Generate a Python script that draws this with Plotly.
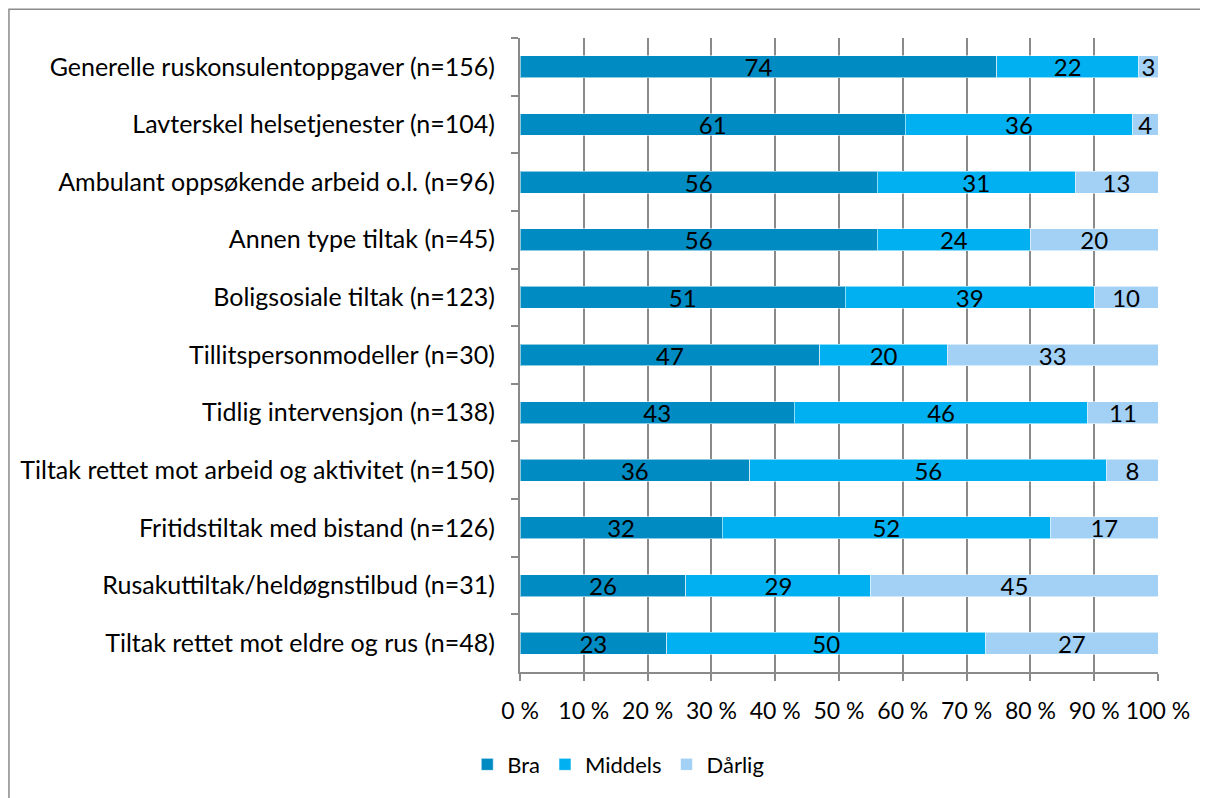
import plotly.graph_objects as go

categories = [
    "Generelle ruskonsulentoppgaver (n=156)",
    "Lavterskel helsetjenester (n=104)",
    "Ambulant oppsøkende arbeid o.l. (n=96)",
    "Annen type tiltak (n=45)",
    "Boligsosiale tiltak (n=123)",
    "Tillitspersonmodeller (n=30)",
    "Tidlig intervensjon (n=138)",
    "Tiltak rettet mot arbeid og aktivitet (n=150)",
    "Fritidstiltak med bistand (n=126)",
    "Rusakuttiltak/heldøgnstilbud (n=31)",
    "Tiltak rettet mot eldre og rus (n=48)",
]
bra = [74, 61, 56, 56, 51, 47, 43, 36, 32, 26, 23]
middels = [22, 36, 31, 24, 39, 20, 46, 56, 52, 29, 50]
darlig = [3, 4, 13, 20, 10, 33, 11, 8, 17, 45, 27]
series_names = ["Bra", "Middels", "Dårlig"]
colors = ["#008BC2", "#00B0F0", "#A2D1F5"]
x_ticks = [0, 10, 20, 30, 40, 50, 60, 70, 80, 90, 100]
x_ticktext = [f"{v} %" for v in x_ticks]

FONT = "Lato, Open Sans, sans-serif"
fig = go.Figure()
for name, vals, col in zip(series_names, [bra, middels, darlig], colors):
    fig.add_trace(go.Bar(
        y=categories, x=vals, name=name, orientation="h",
        marker=dict(color=col, line=dict(color="rgba(255,255,255,0.55)", width=1)),
        text=vals, texttemplate="%{text}", textposition="inside",
        insidetextanchor="middle", textangle=0, constraintext="none",
        textfont=dict(color="black", size=24, family=FONT),
        hoverinfo="skip",
    ))

fig.update_layout(
    barmode="stack", barnorm="percent", bargap=0.62,
    width=1200, height=790,
    margin=dict(l=512, r=50, t=30, b=122),
    paper_bgcolor="white", plot_bgcolor="white",
    font=dict(family=FONT, size=25, color="black"),
    showlegend=True,
    legend=dict(orientation="h", x=0.154, xanchor="center", y=-0.146, yanchor="middle",
                font=dict(size=22), traceorder="normal", itemwidth=30),
    uniformtext=dict(minsize=24, mode="show"),
)
fig.update_xaxes(
    range=[0, 100], tickvals=x_ticks, ticktext=x_ticktext,
    tickangle=0, tickfont=dict(size=23),
    showgrid=True, gridcolor="#8A8A8A", gridwidth=1.5,
    showline=True, linecolor="#8A8A8A", linewidth=2,
    ticks="outside", ticklen=7, tickcolor="#8A8A8A", tickwidth=1.5,
    ticklabelstandoff=10,
    zeroline=False, fixedrange=True,
)
fig.update_yaxes(
    autorange="reversed", tickson="boundaries",
    showline=True, linecolor="#8A8A8A", linewidth=2,
    ticks="outside", ticklen=7, tickcolor="#8A8A8A", tickwidth=1.5,
    ticklabelstandoff=18,
    showgrid=False, fixedrange=True,
)
fig.add_shape(type="rect", xref="paper", yref="paper",
              x0=-0.801, x1=1.1, y0=-0.25, y1=1.0455,
              line=dict(color="#8A8A8A", width=1.5), layer="below")
fig.write_html("out.html")
